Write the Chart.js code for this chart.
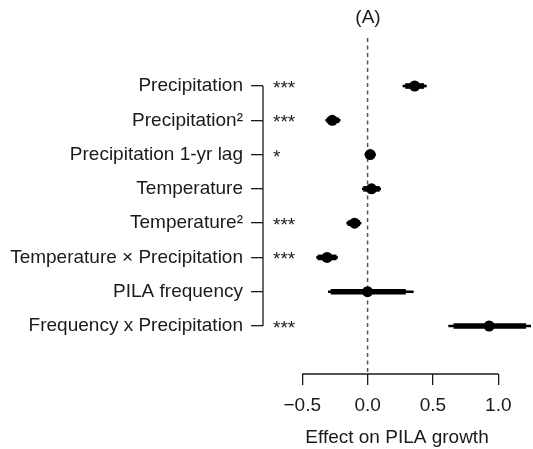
<!DOCTYPE html>
<html>
<head>
<meta charset="utf-8">
<script src="https://cdn.jsdelivr.net/npm/chart.js@4/dist/chart.umd.min.js"></script>
<style>
  body { margin: 0; background: #fff; }
  #wrap { width: 533px; height: 449px; position: relative; }
</style>
</head>
<body>
<div id="wrap"><canvas id="myChart"></canvas></div>
<script>
const rowLabels = [
    "Precipitation",
    "Precipitation²",
    "Precipitation 1-yr lag",
    "Temperature",
    "Temperature²",
    "Temperature × Precipitation",
    "PILA frequency",
    "Frequency x Precipitation"
];
const estimates = [0.36, -0.27, 0.02, 0.03, -0.10, -0.31, 0.0, 0.93];
// outer (thin) interval
const outerLow = [0.27, -0.32, -0.02, -0.04, -0.16, -0.39, -0.30, 0.62];
const outerHigh = [0.45, -0.21, 0.06, 0.10, -0.05, -0.23, 0.35, 1.25];
// inner (thick) interval
const innerLow = [0.29, -0.31, -0.01, -0.03, -0.15, -0.38, -0.28, 0.66];
const innerHigh = [0.43, -0.22, 0.05, 0.09, -0.06, -0.24, 0.29, 1.21];
const signif = ["***", "***", "*", "", "***", "***", "", "***"];
const xTicks = [-0.5, 0, 0.5, 1.0];

const FONT = "'Liberation Sans', Arial, Helvetica, sans-serif";
const INK = "#1a1a1a";

const rows = rowLabels.map((_, i) => i + 1);

// R style axes, zero line, stars and panel letter
const extras = {
    id: "extras",
    beforeDatasetsDraw(chart) {
        const { ctx, chartArea } = chart;
        const xs = chart.scales.x;
        const zx = xs.getPixelForValue(0);
        ctx.save();
        ctx.strokeStyle = "#555";
        ctx.lineWidth = 1.5;
        ctx.setLineDash([4, 3.5]);
        ctx.beginPath();
        ctx.moveTo(zx, chartArea.top);
        ctx.lineTo(zx, chartArea.bottom);
        ctx.stroke();
        ctx.restore();
    },
    afterDraw(chart) {
        const { ctx, chartArea } = chart;
        const xs = chart.scales.x;
        const ys = chart.scales.y;
        ctx.save();
        ctx.strokeStyle = INK;
        ctx.lineWidth = 1.3;
        ctx.beginPath();
        ctx.moveTo(chartArea.left, ys.getPixelForValue(rows[0]));
        ctx.lineTo(chartArea.left, ys.getPixelForValue(rows[rows.length - 1]));
        ctx.moveTo(xs.getPixelForValue(xTicks[0]), chartArea.bottom);
        ctx.lineTo(xs.getPixelForValue(xTicks[xTicks.length - 1]), chartArea.bottom);
        ctx.stroke();

        ctx.fillStyle = INK;
        ctx.font = "19px " + FONT;
        ctx.textAlign = "left";
        ctx.textBaseline = "alphabetic";
        signif.forEach((s, i) => {
            if (s) ctx.fillText(s, chartArea.left + 10, ys.getPixelForValue(rows[i]) + 8);
        });

        ctx.textAlign = "center";
        ctx.textBaseline = "middle";
        ctx.fillText("(A)", 368, 18);
        ctx.restore();
    }
};

const ctx = document.getElementById("myChart");

new Chart(ctx, {
    type: "scatter",
    data: {
        datasets: [
            {
                type: "scatter",
                data: rows.map((r, i) => ({ x: estimates[i], y: r })),
                pointRadius: 5.5,
                pointBackgroundColor: "#000",
                pointBorderWidth: 0,
                order: 0
            },
            {
                type: "bar",
                indexAxis: "y",
                grouped: false,
                data: rows.map((r, i) => ({ x: [innerLow[i], innerHigh[i]], y: r })),
                barThickness: 5,
                backgroundColor: "#000",
                borderWidth: 0,
                order: 1
            },
            {
                type: "bar",
                indexAxis: "y",
                grouped: false,
                data: rows.map((r, i) => ({ x: [outerLow[i], outerHigh[i]], y: r })),
                barThickness: 2,
                backgroundColor: "#000",
                borderWidth: 0,
                order: 2
            }
        ]
    },
    options: {
        responsive: true,
        maintainAspectRatio: false,
        animation: false,
        layout: { autoPadding: false, padding: { top: 38, right: 2, left: 0, bottom: 0 } },
        scales: {
            x: {
                type: "linear",
                position: "bottom",
                offset: false,
                min: -0.8,
                max: 1.25,
                afterBuildTicks: (scale) => {
                    scale.ticks = xTicks.map(v => ({ value: v }));
                },
                afterFit: (scale) => { scale.height = 75; },
                border: { display: false },
                grid: {
                    offset: false,
                    drawOnChartArea: false,
                    drawTicks: true,
                    tickLength: 11,
                    color: INK,
                    lineWidth: 1.3
                },
                ticks: {
                    padding: 9,
                    color: INK,
                    font: { family: FONT, size: 19 },
                    maxRotation: 0,
                    callback: (v) => (v < 0 ? "\u2212" : "") + Math.abs(v).toFixed(1)
                },
                title: {
                    display: true,
                    text: "Effect on PILA growth",
                    color: INK,
                    font: { family: FONT, size: 19 },
                    padding: 0
                }
            },
            y: {
                type: "linear",
                reverse: true,
                offset: false,
                min: -0.4,
                max: 9.4,
                afterBuildTicks: (scale) => {
                    scale.ticks = rows.map(v => ({ value: v }));
                },
                afterFit: (scale) => { scale.width = 263; },
                border: { display: false },
                grid: {
                    offset: false,
                    drawOnChartArea: false,
                    drawTicks: true,
                    tickLength: 12,
                    color: INK,
                    lineWidth: 1.3
                },
                ticks: {
                    padding: 8,
                    color: INK,
                    font: { family: FONT, size: 19 },
                    callback: (v) => rowLabels[v - 1]
                }
            }
        },
        plugins: {
            legend: { display: false },
            tooltip: { enabled: false },
            title: { display: false }
        }
    },
    plugins: [extras]
});
</script>
</body>
</html>
